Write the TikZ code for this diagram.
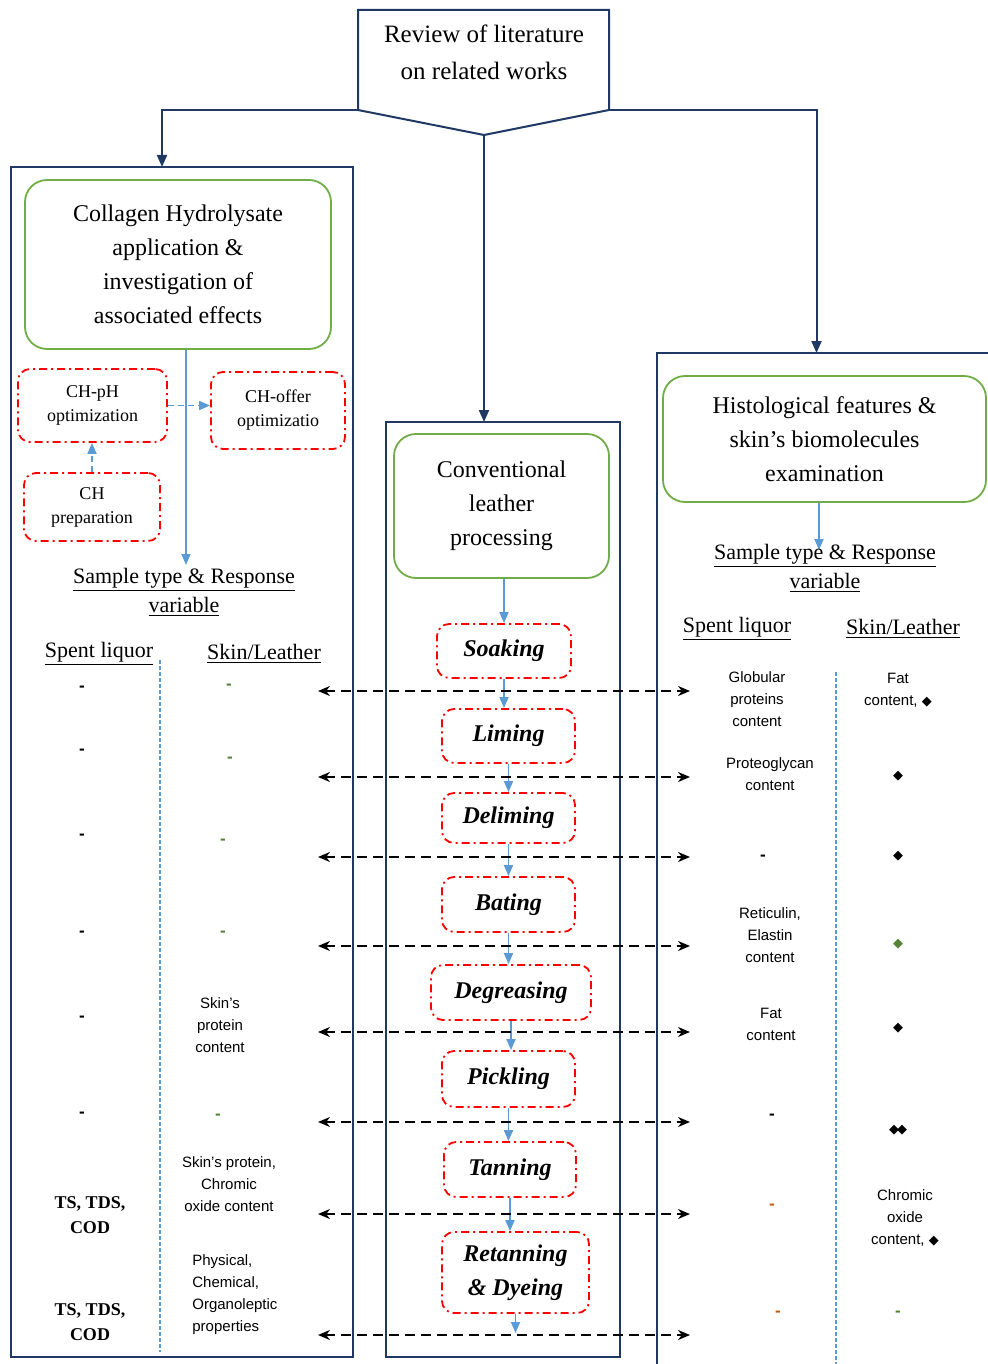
\documentclass[tikz,border=0pt]{standalone}
\usepackage{fontspec}
\setmainfont{Liberation Serif}
\setsansfont{Liberation Sans}
\newfontfamily\symfont{DejaVu Sans}
\usetikzlibrary{arrows.meta}
\definecolor{navy}{RGB}{32,56,100}
\definecolor{lblue}{RGB}{91,155,213}
\definecolor{grn}{RGB}{112,173,71}
\definecolor{dgrn}{RGB}{84,130,53}
\definecolor{orng}{RGB}{197,90,17}
\newcommand{\dmd}{{\symfont\fontsize{6.5}{6.5}\selectfont ◆}}

\begin{document}
\begin{tikzpicture}[
      x=0.5pt,y=-0.5pt,
      panel/.style={draw=navy,line width=1pt,inner sep=0pt,outer sep=0pt},
      link/.style={navy,line width=1pt,-{Triangle[length=6pt,width=5pt]}},
      topic/.style={draw=grn,line width=0.9pt,rounded corners=11pt,align=center,inner sep=0pt,
        font=\fontsize{12}{17}\selectfont},
      stage/.style={draw=red,line width=0.9pt,dash pattern=on 4pt off 2pt on 1pt off 2pt,
        rounded corners=6pt,align=center,inner sep=0pt},
      task/.style={stage,font=\fontsize{12}{17}\selectfont\bfseries\itshape},
      sub/.style={stage,font=\fontsize{9}{12}\selectfont},
      flow/.style={lblue,line width=0.9pt,-{Triangle[length=5.5pt,width=4.5pt]}},
      flowd/.style={flow,dash pattern=on 3pt off 2pt},
      tie/.style={line width=0.8pt,dash pattern=on 5pt off 3pt,
        {Stealth[length=6pt,width=5pt]}-{Stealth[length=6pt,width=5pt]}},
      split/.style={lblue,line width=0.6pt,dash pattern=on 2pt off 1pt},
      head/.style={align=center,font=\fontsize{11}{14.5}\selectfont},
      val/.style={align=center,inner sep=0pt,font=\sffamily\fontsize{7.5}{11}\selectfont},
      nil/.style={inner sep=0pt,font=\sffamily\bfseries\fontsize{8.5}{11}\selectfont},
      sum/.style={align=center,inner sep=0pt,font=\bfseries\fontsize{9}{12.5}\selectfont}
    ]
    \useasboundingbox (0,0) rectangle (987,1364);

    \node (rev) [panel,draw=none,minimum width=125.5pt,minimum height=50pt] at (483.5,60) {};
    \node (revt) [align=center,font=\fontsize{12.5}{18.5}\selectfont] at (484,52)
      {Review of literature\\on related works};
    \coordinate (tip) at (484,135);
    \draw[panel] (rev.north west) -- (rev.north east) -- (rev.south east) -- (tip)
      -- (rev.south west) -- cycle;

    \node (lcol) [panel,minimum width=171pt,minimum height=595pt] at (182,762) {};
    \node (ccol) [panel,minimum width=117pt,minimum height=467.5pt] at (503,889.5) {};
    \node (rcol) [panel,minimum width=171.5pt,minimum height=513.5pt] at (828.5,866.5) {};

    \draw[link] (rev.south west) -| ([xshift=-10pt]lcol.north);
    \draw[link] (rev.south east) -| ([xshift=-6pt]rcol.north);
    \draw[link] (tip) -- (tip |- ccol.north);

    \node (ch) [topic,minimum width=153pt,minimum height=84.5pt] at (178,264.5)
      {Collagen Hydrolysate\\application \&\\investigation of\\associated effects};
    \node (clp) [topic,minimum width=107.5pt,minimum height=72pt] at (501.5,506)
      {Conventional\\leather\\processing};
    \node (hist) [topic,minimum width=161.5pt,minimum height=63pt] at (824.5,439)
      {Histological features \&\\skin's biomolecules\\examination};

    \node (ph) [sub,minimum width=74.5pt,minimum height=36.5pt] at (92.5,405.5) {CH-pH\\optimization};
    \node (off) [sub,minimum width=67pt,minimum height=38.5pt] at (278,410.5) {CH-offer\\optimizatio};
    \node (prep) [sub,minimum width=68pt,minimum height=34pt] at (92,507) {CH\\preparation};
    \draw[flowd] (ph.east) -- (ph.east -| off.west);
    \draw[flowd] (prep.north) -- (prep.north |- ph.south);
    \coordinate (sl) at (186,565);
    \draw[flow] (ch.south -| sl) -- (sl);

    \node (lst) [head] at (184,592) {\underline{Sample type \& Response}\\\underline{variable}};
    \node (lsp) [head] at (99,654) {\underline{Spent liquor}};
    \node (lsk) [head] at (264,654) {\underline{Skin/Leather}};
    \draw[split] (160,660) -- (160,1352);

    \node (s1) [task,minimum width=67pt,minimum height=27pt] at (504,651) {Soaking};
    \node (s2) [task,minimum width=66.5pt,minimum height=27pt] at (508.5,736) {Liming};
    \node (s3) [task,minimum width=66.5pt,minimum height=25pt] at (508.5,818) {Deliming};
    \node (s4) [task,minimum width=66.5pt,minimum height=27.5pt] at (508.5,904.5) {Bating};
    \node (s5) [task,minimum width=80pt,minimum height=27.5pt] at (511,992.5) {Degreasing};
    \node (s6) [task,minimum width=66.5pt,minimum height=28pt] at (508.5,1079) {Pickling};
    \node (s7) [task,minimum width=66pt,minimum height=27.5pt] at (510,1169.5) {Tanning};
    \node (s8) [task,minimum width=73.5pt,minimum height=40.5pt] at (515.5,1272.5) {Retanning\\\& Dyeing};

    \draw[flow] (s1.north |- clp.south) -- (s1.north);
    \foreach \a/\b in {s1/s2,s2/s3,s3/s4,s4/s5,s5/s6,s6/s7,s7/s8}
      \draw[flow] (\a.south) -- (\a.south |- \b.north);
    \coordinate (fin) at (515.5,1333);
    \draw[flow] (s8.south) -- (fin);

    \foreach \y [count=\i] in {691,777,857,946,1032,1122,1214,1335} {
      \coordinate (l\i) at (318,\y);
      \coordinate (r\i) at (690,\y);
      \draw[tie] (l\i) -- (r\i);
    }

    \foreach \y [count=\i] in {689,752,837,934,1019,1115}
      \node (a\i) [nil] at (82,\y) {-};
    \node (a7) [sum] at (90,1215) {TS, TDS,\\COD};
    \node (a8) [sum] at (90,1322) {TS, TDS,\\COD};

    \foreach \x/\y [count=\i] in {229/687,230/760,223/842,223/934,218/1117}
      \node (b\i) [nil,text=dgrn] at (\x,\y) {-};
    \node (b6) [val] at (220,1025) {Skin's\\protein\\content};
    \node (b7) [val] at (229,1184) {Skin's protein,\\Chromic\\oxide content};
    \node (b8) [val,align=left,anchor=west] at (192,1295) {Physical,\\Chemical,\\Organoleptic\\properties};

    \coordinate (sr) at (819,550);
    \draw[flow] (hist.south -| sr) -- (sr);
    \node (rst) [head] at (825,568) {\underline{Sample type \& Response}\\\underline{variable}};
    \node (rsp) [head] at (737,629) {\underline{Spent liquor}};
    \node (rsk) [head] at (903,629) {\underline{Skin/Leather}};
    \draw[split] (836,672) -- (836,1364);

    \node (c1) [val] at (757,699) {Globular\\proteins\\content};
    \node (c2) [val] at (770,774) {Proteoglycan\\content};
    \node (c3) [nil] at (763,858) {-};
    \node (c4) [val] at (770,935) {Reticulin,\\Elastin\\content};
    \node (c5) [val] at (771,1024) {Fat\\content};
    \node (c6) [nil] at (772,1117) {-};
    \node (c7) [nil,text=orng] at (772,1207) {-};
    \node (c8) [nil,text=orng] at (778,1314) {-};

    \node (d1) [val] at (898,690) {Fat\\content, \dmd};
    \node (d2) [val] at (898,776) {\dmd};
    \node (d3) [val] at (898,856) {\dmd};
    \node (d4) [val,text=dgrn] at (898,944) {\dmd};
    \node (d5) [val] at (898,1028) {\dmd};
    \node (d6) [val] at (898,1130) {\dmd\kern-1pt\dmd};
    \node (d7) [val] at (905,1218) {Chromic\\oxide\\content, \dmd};
    \node (d8) [nil,text=dgrn] at (898,1314) {-};
  \end{tikzpicture}
\end{document}
